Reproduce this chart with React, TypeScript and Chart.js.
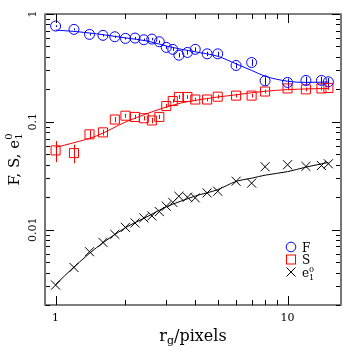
import { useEffect, useRef } from 'react';
import { Chart, registerables } from 'chart.js';
Chart.register(...registerables);

const radii = [1, 1.2, 1.4, 1.6, 1.8, 2.0, 2.2, 2.4, 2.6, 2.8, 3.0, 3.2, 3.4, 3.7, 4.0, 4.5, 5, 6, 7, 8, 10, 12, 14, 15];
const fValues = [0.773, 0.72, 0.647, 0.634, 0.615, 0.594, 0.598, 0.577, 0.585, 0.553, 0.49, 0.47, 0.415, 0.44, 0.47, 0.427, 0.427, 0.333, 0.355, 0.24, 0.232, 0.242, 0.242, 0.235];
const fErrors = [0.015, 0.015, 0.015, 0.015, 0.015, 0.015, 0.015, 0.015, 0.015, 0.015, 0.015, 0.015, 0.02, 0.02, 0.02, 0.02, 0.02, 0.02, 0.025, 0.02, 0.02, 0.02, 0.02, 0.02];
const sValues = [0.0543, 0.0513, 0.0765, 0.0798, 0.105, 0.114, 0.111, 0.108, 0.103, 0.111, 0.14, 0.156, 0.17, 0.17, 0.161, 0.161, 0.171, 0.175, 0.175, 0.191, 0.204, 0.2, 0.204, 0.206];
const sErrors = [0.012, 0.01, 0.007, 0.005, 0.006, 0.005, 0.005, 0.005, 0.006, 0.005, 0.006, 0.006, 0.007, 0.007, 0.006, 0.006, 0.007, 0.007, 0.007, 0.008, 0.008, 0.008, 0.008, 0.008];
const eValues = [0.00306, 0.00446, 0.00624, 0.00762, 0.00904, 0.0105, 0.01154, 0.01285, 0.0134, 0.0147, 0.0165, 0.0179, 0.0204, 0.02, 0.0197, 0.0219, 0.0227, 0.0281, 0.027, 0.0383, 0.04, 0.0386, 0.0393, 0.0408];

const fitRadii = [1, 1.2, 1.5, 2, 2.5, 3, 3.5, 4, 5, 6, 7, 8, 10, 12, 15];
const fitF = [0.71, 0.69, 0.655, 0.6, 0.56, 0.505, 0.47, 0.446, 0.405, 0.345, 0.3, 0.265, 0.238, 0.232, 0.234];
const fitS = [0.058, 0.064, 0.074, 0.0995, 0.12, 0.137, 0.15, 0.158, 0.17, 0.178, 0.186, 0.192, 0.199, 0.202, 0.204];
const fitE = [0.0031, 0.0045, 0.0068, 0.0104, 0.0133, 0.0163, 0.0185, 0.0205, 0.0235, 0.028, 0.03, 0.032, 0.0345, 0.038, 0.042];

const xTickLabels = [1, 10];
const yTickLabels = [0.01, 0.1, 1];
const xMinor = [2, 3, 4, 5, 6, 7, 8, 9];
const yMinor = [0.002, 0.003, 0.004, 0.005, 0.006, 0.007, 0.008, 0.009, 0.02, 0.03, 0.04, 0.05, 0.06, 0.07, 0.08, 0.09, 0.2, 0.3, 0.4, 0.5, 0.6, 0.7, 0.8, 0.9];

const BLUE = '#0000ff';
const RED = '#ff0000';
const BLACK = '#000000';
const FONT = '"DejaVu Serif", serif';

type Part = { t: string; size: number; dy?: number; stackWith?: { t: string; size: number; dy: number } };

function richWidth(ctx: CanvasRenderingContext2D, parts: Part[]) {
  let w = 0;
  for (const p of parts) {
    ctx.font = `${p.size}px ${FONT}`;
    let pw = ctx.measureText(p.t).width;
    if (p.stackWith) {
      ctx.font = `${p.stackWith.size}px ${FONT}`;
      pw = Math.max(pw, ctx.measureText(p.stackWith.t).width);
    }
    w += pw;
  }
  return w;
}

function drawRich(ctx: CanvasRenderingContext2D, parts: Part[], x: number, y: number, center: boolean) {
  ctx.textAlign = 'left';
  ctx.textBaseline = 'alphabetic';
  let cx = center ? x - richWidth(ctx, parts) / 2 : x;
  for (const p of parts) {
    ctx.font = `${p.size}px ${FONT}`;
    ctx.fillText(p.t, cx, y + (p.dy || 0));
    let pw = ctx.measureText(p.t).width;
    if (p.stackWith) {
      ctx.font = `${p.stackWith.size}px ${FONT}`;
      ctx.fillText(p.stackWith.t, cx, y + p.stackWith.dy);
      pw = Math.max(pw, ctx.measureText(p.stackWith.t).width);
    }
    cx += pw;
  }
}

const decor = {
  id: 'decor',
  beforeDatasetsDraw(chart: any) {
    const ctx: CanvasRenderingContext2D = chart.ctx;
    const xs = chart.scales.x;
    const ys = chart.scales.y;
    ctx.save();
    ctx.lineWidth = 1;
    const bars = (vals: number[], errs: number[], color: string) => {
      ctx.strokeStyle = color;
      ctx.beginPath();
      for (let i = 0; i < radii.length; i++) {
        const px = Math.round(xs.getPixelForValue(radii[i])) + 0.5;
        ctx.moveTo(px, ys.getPixelForValue(vals[i] - errs[i]));
        ctx.lineTo(px, ys.getPixelForValue(vals[i] + errs[i]));
      }
      ctx.stroke();
    };
    bars(fValues, fErrors, BLUE);
    bars(sValues, sErrors, RED);
    ctx.restore();
  },
  afterDraw(chart: any) {
    const ctx: CanvasRenderingContext2D = chart.ctx;
    const xs = chart.scales.x;
    const ys = chart.scales.y;
    const a = chart.chartArea;
    ctx.save();
    // ticks
    ctx.strokeStyle = BLACK;
    ctx.lineWidth = 1;
    ctx.beginPath();
    const xt = (v: number, len: number) => {
      const px = Math.round(xs.getPixelForValue(v)) + 0.5;
      ctx.moveTo(px, a.bottom); ctx.lineTo(px, a.bottom - len);
      ctx.moveTo(px, a.top); ctx.lineTo(px, a.top + len);
    };
    const yt = (v: number, len: number) => {
      const py = Math.round(ys.getPixelForValue(v)) + 0.5;
      ctx.moveTo(a.left, py); ctx.lineTo(a.left + len, py);
      ctx.moveTo(a.right, py); ctx.lineTo(a.right - len, py);
    };
    xTickLabels.forEach(v => xt(v, 9));
    xMinor.forEach(v => xt(v, 5));
    yTickLabels.forEach(v => yt(v, 9));
    yMinor.forEach(v => yt(v, 5));
    ctx.stroke();
    // frame
    ctx.strokeStyle = BLACK;
    ctx.lineWidth = 1.2;
    ctx.beginPath();
    ctx.moveTo(a.left, a.top); ctx.lineTo(a.right, a.top);
    ctx.moveTo(a.left, a.bottom); ctx.lineTo(a.right, a.bottom);
    ctx.stroke();
    ctx.strokeStyle = '#777777';
    ctx.lineWidth = 2;
    ctx.beginPath();
    ctx.moveTo(a.left, a.top - 0.6); ctx.lineTo(a.left, a.bottom + 0.6);
    ctx.moveTo(a.right, a.top - 0.6); ctx.lineTo(a.right, a.bottom + 0.6);
    ctx.stroke();
    // tick labels
    ctx.fillStyle = BLACK;
    ctx.font = `11px ${FONT}`;
    ctx.textAlign = 'center';
    ctx.textBaseline = 'middle';
    xTickLabels.forEach(v => ctx.fillText(String(v), xs.getPixelForValue(v), a.bottom + 13));
    yTickLabels.forEach(v => {
      ctx.save();
      ctx.translate(a.left - 12, ys.getPixelForValue(v));
      ctx.rotate(-Math.PI / 2);
      ctx.textAlign = 'center';
      ctx.textBaseline = 'middle';
      ctx.fillText(String(v), 0, 0);
      ctx.restore();
    });
    // axis titles
    drawRich(ctx, [
      { t: 'r', size: 16 },
      { t: 'g', size: 11, dy: 3 },
      { t: '/pixels', size: 16 },
    ], (a.left + a.right) / 2, 341, true);
    ctx.save();
    ctx.translate(19, (a.top + a.bottom) / 2);
    ctx.rotate(-Math.PI / 2);
    drawRich(ctx, [
      { t: 'F, S, e', size: 15 },
      { t: '1', size: 10, dy: 3, stackWith: { t: '0', size: 10, dy: -7 } },
    ], 0, 0, true);
    ctx.restore();
    // legend
    const lx = 291;
    const rows = [247, 259.5, 272];
    ctx.lineWidth = 1;
    ctx.strokeStyle = BLUE;
    ctx.beginPath();
    ctx.arc(lx, rows[0], 4.8, 0, Math.PI * 2);
    ctx.stroke();
    ctx.strokeStyle = RED;
    ctx.strokeRect(lx - 4.5, rows[1] - 4.5, 9, 9);
    ctx.strokeStyle = BLACK;
    ctx.beginPath();
    ctx.moveTo(lx - 4.5, rows[2] - 4.5); ctx.lineTo(lx + 4.5, rows[2] + 4.5);
    ctx.moveTo(lx + 4.5, rows[2] - 4.5); ctx.lineTo(lx - 4.5, rows[2] + 4.5);
    ctx.stroke();
    ctx.fillStyle = BLACK;
    drawRich(ctx, [{ t: 'F', size: 12 }], 302, rows[0] + 4.5, false);
    drawRich(ctx, [{ t: 'S', size: 12 }], 302, rows[1] + 4.5, false);
    drawRich(ctx, [
      { t: 'e', size: 12 },
      { t: '1', size: 8, dy: 3, stackWith: { t: '0', size: 8, dy: -5 } },
    ], 302, rows[2] + 4.5, false);
    ctx.restore();
  },
};

export default function App() {
  const ref = useRef<HTMLCanvasElement | null>(null);
  useEffect(() => {
    if (!ref.current) return;
    const pts = (xs: number[], ys: number[]) => xs.map((x, i) => ({ x, y: ys[i] }));
    const chart = new Chart(ref.current, {
      type: 'scatter',
      data: {
        datasets: [
          { label: 'F', data: pts(radii, fValues), pointStyle: 'circle', pointRadius: 5, pointBorderWidth: 1, borderColor: BLUE, backgroundColor: 'rgba(0,0,0,0)', showLine: false },
          { label: 'S', data: pts(radii, sValues), pointStyle: 'rect', pointRadius: 6.4, pointBorderWidth: 1, borderColor: RED, backgroundColor: 'rgba(0,0,0,0)', showLine: false },
          { label: 'e', data: pts(radii, eValues), pointStyle: 'crossRot', pointRadius: 6.4, pointBorderWidth: 1, borderColor: BLACK, backgroundColor: 'rgba(0,0,0,0)', showLine: false },
          { label: 'fitF', data: pts(fitRadii, fitF), showLine: true, pointRadius: 0, borderWidth: 1, borderColor: BLUE, cubicInterpolationMode: 'monotone' },
          { label: 'fitS', data: pts(fitRadii, fitS), showLine: true, pointRadius: 0, borderWidth: 1, borderColor: RED, cubicInterpolationMode: 'monotone' },
          { label: 'fitE', data: pts(fitRadii, fitE), showLine: true, pointRadius: 0, borderWidth: 1, borderColor: BLACK, cubicInterpolationMode: 'monotone' },
        ] as any,
      },
      options: {
        animation: false,
        responsive: false,
        devicePixelRatio: 1,
        layout: { padding: { top: 14, right: 13, left: 0, bottom: 0 } },
        plugins: { legend: { display: false }, tooltip: { enabled: false } },
        scales: {
          x: {
            type: 'logarithmic', min: 0.9, max: 17,
            grid: { display: false }, border: { display: false },
            ticks: { display: false },
            afterFit: (s: any) => { s.height = 49; },
          },
          y: {
            type: 'logarithmic', min: 0.002, max: 1,
            grid: { display: false }, border: { display: false },
            ticks: { display: false },
            afterFit: (s: any) => { s.width = 45; },
          },
        },
      } as any,
      plugins: [decor],
    });
    return () => chart.destroy();
  }, []);
  return (
    <div style={{ position: 'fixed', left: 0, top: 0, width: 354, height: 354, background: '#fff' }}>
      <canvas ref={ref} width={354} height={354} style={{ width: 354, height: 354 }} />
    </div>
  );
}
